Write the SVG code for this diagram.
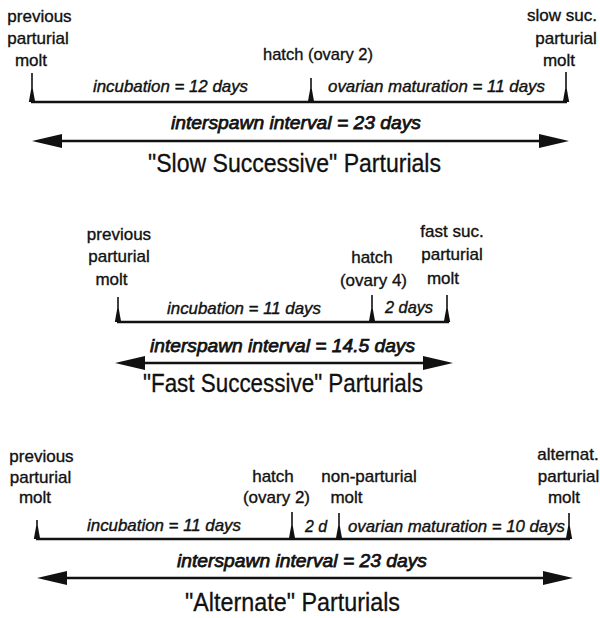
<svg xmlns="http://www.w3.org/2000/svg" xmlns:xlink="http://www.w3.org/1999/xlink" width="600" height="618" viewBox="0 0 600 618">
<defs>
<style>
text{font-family:"Liberation Sans",Arial,sans-serif;fill:#111;text-anchor:middle;stroke:#111}
.lbl{font-size:17px;stroke-width:0.35}
.dur{font-size:17px;font-style:italic;stroke-width:0.4}
.isi{font-size:19px;font-style:italic;stroke-width:0.75}
.ttl{font-size:26px;stroke-width:0.3}
.base{stroke:#111;stroke-width:2.6;fill:none}
.tick{stroke:#111;stroke-width:1.6;fill:none}
.arr{stroke:#111;stroke-width:2.6;fill:none;marker-start:url(#ah);marker-end:url(#ah)}
</style>
<marker id="ah" viewBox="0 0 30 14" refX="20" refY="7" markerWidth="30" markerHeight="14" markerUnits="userSpaceOnUse" orient="auto-start-reverse">
<path d="M0,0 L30,7 L0,14 z" fill="#111"/>
</marker>
<path id="foot" d="M-3.2,0 L3.2,0 L0.8,-13 L-0.8,-13 z" fill="#111"/>
</defs>
<rect width="600" height="618" fill="#fff"/>

<!-- Panel 1: Slow Successive -->
<g id="panel-slow">
<g id="slow-prev-molt">
<text class="lbl" x="39.5" y="22">previous</text>
<text class="lbl" x="38" y="44">parturial</text>
<text class="lbl" x="31" y="66">molt</text>
</g>
<g id="slow-hatch"><text class="lbl" x="318" y="60" textLength="110" lengthAdjust="spacingAndGlyphs">hatch (ovary 2)</text></g>
<g id="slow-next-molt">
<text class="lbl" x="562" y="21">slow suc.</text>
<text class="lbl" x="566" y="44">parturial</text>
<text class="lbl" x="559" y="66">molt</text>
</g>
<g id="slow-durations">
<text class="dur" x="170.5" y="92" textLength="155" lengthAdjust="spacingAndGlyphs">incubation = 12 days</text>
<text class="dur" x="436.5" y="92" textLength="217" lengthAdjust="spacingAndGlyphs">ovarian maturation = 11 days</text>
<text class="isi" x="296" y="129" textLength="250" lengthAdjust="spacingAndGlyphs">interspawn interval = 23 days</text>
</g>
<g id="slow-title"><text class="ttl" x="294.5" y="172" textLength="293" lengthAdjust="spacingAndGlyphs">"Slow Successive" Parturials</text></g>
</g>

<!-- Panel 2: Fast Successive -->
<g id="panel-fast">
<g id="fast-prev-molt">
<text class="lbl" x="119" y="240">previous</text>
<text class="lbl" x="119" y="262">parturial</text>
<text class="lbl" x="111.5" y="285">molt</text>
</g>
<g id="fast-hatch">
<text class="lbl" x="372" y="263">hatch</text>
<text class="lbl" x="373.5" y="286">(ovary 4)</text>
</g>
<g id="fast-next-molt">
<text class="lbl" x="452" y="237">fast suc.</text>
<text class="lbl" x="452" y="260">parturial</text>
<text class="lbl" x="443" y="284">molt</text>
</g>
<g id="fast-durations">
<text class="dur" x="244" y="314" textLength="154" lengthAdjust="spacingAndGlyphs">incubation = 11 days</text>
<text class="dur" x="409" y="313" textLength="48" lengthAdjust="spacingAndGlyphs">2 days</text>
<text class="isi" x="282.5" y="352" textLength="265" lengthAdjust="spacingAndGlyphs">interspawn interval = 14.5 days</text>
</g>
<g id="fast-title"><text class="ttl" x="283" y="392" textLength="280" lengthAdjust="spacingAndGlyphs">"Fast Successive" Parturials</text></g>
</g>

<!-- Panel 3: Alternate -->
<g id="panel-alt">
<g id="alt-prev-molt">
<text class="lbl" x="41.5" y="462">previous</text>
<text class="lbl" x="40.5" y="483">parturial</text>
<text class="lbl" x="35" y="503">molt</text>
</g>
<g id="alt-hatch">
<text class="lbl" x="273" y="482">hatch</text>
<text class="lbl" x="276.5" y="503">(ovary 2)</text>
</g>
<g id="alt-nonpart-molt">
<text class="lbl" x="369" y="482">non-parturial</text>
<text class="lbl" x="346.5" y="503">molt</text>
</g>
<g id="alt-next-molt">
<text class="lbl" x="568" y="460">alternat.</text>
<text class="lbl" x="568.5" y="482">parturial</text>
<text class="lbl" x="564" y="503">molt</text>
</g>
<g id="alt-durations">
<text class="dur" x="164" y="531" textLength="154" lengthAdjust="spacingAndGlyphs">incubation = 11 days</text>
<text class="dur" x="316" y="532" textLength="22" lengthAdjust="spacingAndGlyphs">2 d</text>
<text class="dur" x="456.5" y="532" textLength="217" lengthAdjust="spacingAndGlyphs">ovarian maturation = 10 days</text>
<text class="isi" x="302" y="567" textLength="250" lengthAdjust="spacingAndGlyphs">interspawn interval = 23 days</text>
</g>
<g id="alt-title"><text class="ttl" x="292.5" y="611" textLength="215" lengthAdjust="spacingAndGlyphs">"Alternate" Parturials</text></g>
</g>

<!-- Connectors: timelines, ticks and interval arrows -->
<g id="connectors">
<path class="base" d="M31,102 H567"/>
<path class="tick" d="M32,73 V102 M311,78 V102 M566,72 V102"/>
<use xlink:href="#foot" x="32" y="102"/><use xlink:href="#foot" x="311" y="102"/><use xlink:href="#foot" x="566" y="102"/>
<line class="arr" x1="42" y1="141" x2="559" y2="141"/>

<path class="base" d="M117,322 H449"/>
<path class="tick" d="M118,297 V322 M372,295 V322 M447,295 V322"/>
<use xlink:href="#foot" x="118" y="322"/><use xlink:href="#foot" x="372" y="322"/><use xlink:href="#foot" x="447" y="322"/>
<line class="arr" x1="125" y1="363" x2="443" y2="363"/>

<path class="base" d="M36,539 H570"/>
<path class="tick" d="M37,520 V539 M292,512 V539 M339,513 V539 M569,513 V539"/>
<use xlink:href="#foot" x="37" y="539"/><use xlink:href="#foot" x="292" y="539"/><use xlink:href="#foot" x="339" y="539"/><use xlink:href="#foot" x="569" y="539"/>
<line class="arr" x1="47" y1="578" x2="563" y2="578"/>
</g>
</svg>
